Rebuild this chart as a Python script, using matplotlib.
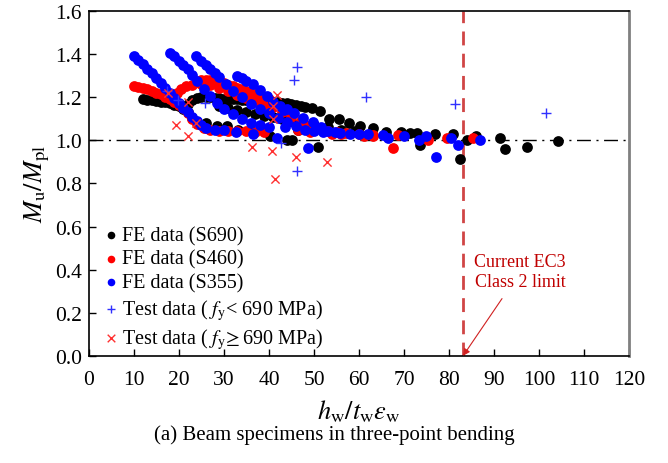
import numpy as np
import matplotlib.pyplot as plt

plt.rcParams['font.family'] = ['Liberation Serif', 'DejaVu Serif']
plt.rcParams['mathtext.fontset'] = 'stix'

# FE data, S690 (black)
s690_x = [12, 13, 14, 15, 16, 17, 18, 19, 20, 21, 22, 23, 24, 26, 28.4, 30.7, 33.1, 36.4, 40.2, 44,
          22, 23, 24, 25, 26, 27, 28, 29, 30, 31, 32, 33, 34, 35, 36, 37, 38, 39, 40, 41, 42, 43, 44,
          45, 46, 47, 48, 49.6, 51.3, 53.3, 55.6, 57.8, 60.2, 63.1, 66, 69.3, 72.9,
          29, 31, 33, 35, 37, 39, 41, 43, 45, 47, 50, 53, 56, 59,
          45.1, 46.5, 50.9, 71.3, 73.6, 76.8, 80.9, 82.4, 84, 86, 91.3, 92.3, 97.3, 104.2]
s690_y = [1.19, 1.188, 1.186, 1.183, 1.18, 1.177, 1.172, 1.166, 1.158, 1.147, 1.13, 1.105, 1.085,
          1.08, 1.065, 1.065, 1.05, 1.04, 1.02, 1.0,
          1.17, 1.185, 1.195, 1.2, 1.2, 1.2, 1.198, 1.196, 1.194, 1.192, 1.19, 1.19, 1.188, 1.186,
          1.184, 1.182, 1.18, 1.18, 1.18, 1.178, 1.176, 1.174, 1.172, 1.17, 1.165, 1.16, 1.155,
          1.15, 1.135, 1.10, 1.10, 1.08, 1.065, 1.055, 1.04, 1.04, 1.035,
          1.16, 1.15, 1.14, 1.13, 1.12, 1.115, 1.11, 1.1, 1.09, 1.08, 1.07, 1.06, 1.05, 1.045,
          1.0, 1.05, 0.97, 1.035, 0.98, 1.03, 1.03, 0.915, 1.0, 1.02, 1.01, 0.96, 0.97, 0.995]

# FE data, S460 (red)
s460_x = [10, 11, 12, 13, 14, 15, 16, 17, 18, 19, 20, 21, 22, 23, 24, 25.5, 27, 29, 31, 33, 35, 37, 39,
          18.5, 19.5, 20.5, 21.5, 23, 25, 27, 29, 31, 33, 35, 37, 39, 41, 43, 45, 47, 49, 51, 53,
          55, 57, 60, 63,
          24, 25, 26, 27, 28, 29, 30, 31, 32, 33, 34, 35, 36, 37, 38, 39, 40,
          46.5, 49, 54, 56, 61, 63, 67.6, 68.7, 75.3, 79.5, 85.3]
s460_y = [1.25, 1.247, 1.243, 1.237, 1.23, 1.222, 1.213, 1.203, 1.192, 1.18, 1.165, 1.148, 1.125,
          1.1, 1.075, 1.058, 1.05, 1.045, 1.045, 1.045, 1.042, 1.04, 1.04,
          1.2, 1.22, 1.24, 1.252, 1.258, 1.262, 1.258, 1.245, 1.23, 1.212, 1.197, 1.183, 1.17,
          1.155, 1.13, 1.11, 1.09, 1.07, 1.055, 1.045, 1.04, 1.035, 1.03, 1.025,
          1.27, 1.28, 1.282, 1.28, 1.276, 1.27, 1.265, 1.258, 1.25, 1.243, 1.236, 1.23, 1.222,
          1.214, 1.206, 1.198, 1.19,
          1.05, 1.04, 1.03, 1.03, 1.02, 1.02, 0.965, 1.025, 1.0, 1.01, 1.01]

# FE data, S355 (blue)
s355_x = [10, 11, 12, 13, 14, 15, 16, 17, 18, 19, 20, 21, 22, 23, 24, 25, 26, 28, 30, 32.7, 36.5, 41.7,
          18, 19, 20, 21, 22, 23, 24, 25.5, 27, 28.5, 30, 32, 34, 36, 38, 40,
          23.8, 25, 26, 27, 28, 29, 30.5, 32, 34, 36, 38, 40, 42, 44, 46, 48, 50, 52,
          33, 34, 35, 36.4, 38, 39.5, 41, 42.5, 44, 45.5, 47.6, 49.8, 51.5, 53,
          43.3, 43.6, 48.7, 54.7, 55.8, 58, 60, 62, 65.3, 66.5, 70, 73.4, 74.9, 77.1,
          80.5, 82, 86.9]
s355_y = [1.39, 1.372, 1.353, 1.333, 1.312, 1.29, 1.267, 1.243, 1.22, 1.198, 1.175, 1.152, 1.13,
          1.11, 1.09, 1.072, 1.058, 1.05, 1.048, 1.04, 1.03, 1.01,
          1.405, 1.39, 1.37, 1.35, 1.33, 1.305, 1.275, 1.24, 1.205, 1.175, 1.145, 1.12, 1.1, 1.08,
          1.07, 1.06,
          1.39, 1.37, 1.352, 1.333, 1.313, 1.293, 1.262, 1.23, 1.2, 1.17, 1.145, 1.125, 1.105,
          1.085, 1.065, 1.05, 1.045, 1.04,
          1.30, 1.29, 1.275, 1.26, 1.235, 1.205, 1.18, 1.16, 1.145, 1.125, 1.105, 1.085, 1.06, 1.045,
          1.14, 1.06, 0.965, 1.04, 1.035, 1.03, 1.03, 1.03, 1.025, 1.01, 1.02, 1.0, 1.02,
          0.925, 1.01, 0.98, 1.0]

# Test data
test_lo_x = [17.3, 19.8, 25.8, 42.7, 45.6, 46.2, 46.2, 61.5, 81.4, 101.6]
test_lo_y = [1.23, 1.185, 1.175, 0.99, 1.28, 1.34, 0.86, 1.20, 1.17, 1.125]
test_hi_x = [17.5, 19.3, 22, 22, 23.8, 36.2, 40.7, 41.3, 41.8, 41, 41, 46, 52.8]
test_hi_y = [1.22, 1.07, 1.02, 1.18, 1.08, 0.97, 0.95, 0.82, 1.21, 1.16, 1.10, 0.925, 0.90]

ec3_limit = 83.1

fig = plt.figure(figsize=(6.68, 4.64), dpi=100)
ax = fig.add_axes([0.133, 0.231, 0.809, 0.743])

ax.axhline(1.0, color="black", lw=1.0, ls=(0, (10, 4, 1.5, 4)), zorder=1)
ax.axvline(ec3_limit, color="#d04545", lw=2, ls=(0, (5, 3)), zorder=1)

ax.scatter(s690_x, s690_y, s=60, color="black", lw=0, label="FE data (S690)", zorder=2)
ax.scatter(s460_x, s460_y, s=60, color="#ff0000", lw=0, label="FE data (S460)", zorder=3)
ax.scatter(s355_x, s355_y, s=60, color="#0000ff", lw=0, label="FE data (S355)", zorder=4)
ax.scatter(test_lo_x, test_lo_y, s=45, marker="+", color="#3030ff", lw=1.0,
           label=r"Test data ( $f_{\rm y}$< 690 MPa)", zorder=5)
ax.scatter(test_hi_x, test_hi_y, s=35, marker="x", color="#ff3030", lw=1.0,
           label=r"Test data ( $f_{\rm y}\!\geq$690 MPa)", zorder=5)

ax.annotate("Current EC3\nClass 2 limit", xy=(ec3_limit, 0.0), xytext=(95.8, 0.39),
            ha="center", va="center", color="#c00000", fontsize=13,
            arrowprops=dict(arrowstyle="-|>", color="#d02020", lw=0.8,
                            shrinkA=5, shrinkB=0, mutation_scale=10))

ax.set_xlim(0, 120)
ax.set_ylim(0, 1.6)
ax.set_xticks(np.arange(0, 121, 10))
ax.set_yticks(np.arange(0, 1.61, 0.2))
ax.set_yticklabels([f"{v:.1f}" for v in np.arange(0, 1.61, 0.2)])
ax.tick_params(direction="in", labelsize=15.5, length=5, width=1)
ax.tick_params(axis="x", pad=10)
ax.tick_params(axis="y", pad=5)
ax.spines["right"].set_color("#808080")
ax.spines["right"].set_linewidth(2)
for s in ["left", "top", "bottom"]:
    ax.spines[s].set_linewidth(1.2)

ax.set_ylabel(r"$M_{\rm u}/M_{\rm pl}$", fontsize=19, labelpad=2)
ax.set_xlabel(r"$h_{\rm w}/t_{\rm w}\varepsilon_{\rm w}$", fontsize=19, labelpad=6)

leg = ax.legend(loc="lower left", bbox_to_anchor=(0.015, -0.01), frameon=False, fontsize=14.5,
                handlelength=0.6, handletextpad=0.25, labelspacing=0.22,
                borderaxespad=0.3, borderpad=0.1)
for h, size in zip(leg.legend_handles, [30, 30, 30, 40, 30]):
    h.set_sizes([size])

fig.text(0.50, 0.062, "(a) Beam specimens in three-point bending", ha="center", va="center",
         fontsize=15)

fig.savefig("out.png", dpi=100)
